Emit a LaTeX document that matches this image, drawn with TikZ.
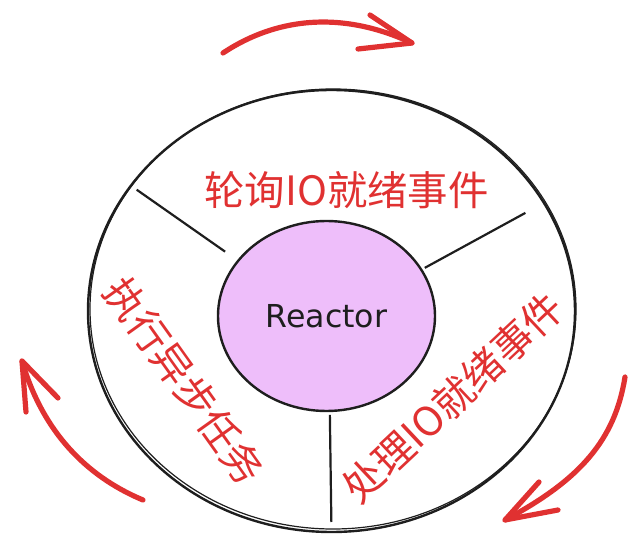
\documentclass[tikz,border=0pt]{standalone}
\usepackage{fontspec}
\usepackage{xcolor}
\usepackage{tikz}
\usetikzlibrary{shapes.geometric,calc}

\newfontfamily\cjk{Noto Sans CJK SC}
\newfontfamily\handfont{DejaVu Sans}

\definecolor{sketchred}{HTML}{E03131}
\definecolor{sketchink}{HTML}{1E1E1E}
\definecolor{lilac}{HTML}{EEBEFA}

\begin{document}
\begin{tikzpicture}[x=0.5pt,y=-0.5pt,
    ring/.style={ellipse, draw=sketchink, line width=1.2pt, inner sep=0pt, outer sep=0pt,
        minimum width=243.5pt, minimum height=221pt},
    core/.style={ellipse, draw=sketchink, fill=lilac, line width=1.2pt, inner sep=0pt, outer sep=0pt,
        minimum width=108.5pt, minimum height=95pt, font=\handfont\fontsize{15.8}{18}\selectfont, text=sketchink},
    spoke/.style={draw=sketchink, line width=1.1pt},
    phase/.style={text=sketchred, font=\cjk\fontsize{20.2}{24}\selectfont, inner sep=0pt},
    flow/.style={draw=sketchred, line width=2.6pt, line cap=round, line join=round}]
        \useasboundingbox (0,0) rectangle (644,551);

        % Rings
        \node[ring] (ring) at (331.5,311) {};
        \draw[sketchink, line width=0.6pt] (333,309) ellipse [x radius=243, y radius=220];
        \node[core] (reactor) at (326.5,316) {Reactor};

        % Spokes
        \draw[spoke, shorten <=8pt, shorten >=3.5pt] (reactor.148) -- (ring.148);
        \draw[spoke, shorten <=2pt, shorten >=10.5pt] (reactor.26) -- (ring.27);
        \draw[spoke, shorten <=2pt, shorten >=5pt] (reactor.-88) -- (ring.-90);

        % Phase labels
        \node[phase] (poll) at (346.5,190) {轮询IO就绪事件};
        \node[phase, rotate=-54.5] (run) at (184.5,381) {执行异步任务};
        \node[phase, rotate=43.2] (handle) at (453,397.5) {处理IO就绪事件};

        % Cycle arrows
        \coordinate (topfrom) at (223,53);
        \coordinate (topto) at (412,43);
        \draw[flow] (topfrom) .. controls (265,25) and (330,5) .. (topto);
        \draw[flow] (370,15) -- (topto) -- (358,49);

        \coordinate (rightfrom) at (625,377);
        \coordinate (rightto) at (505,520);
        \draw[flow] (rightfrom) .. controls (615,440) and (580,480) .. (rightto);
        \draw[flow] (539,482) -- (rightto) -- (558,510);

        \coordinate (leftfrom) at (143,500);
        \coordinate (leftto) at (22,361);
        \draw[flow] (leftfrom) .. controls (95,480) and (45,440) .. (leftto);
        \draw[flow] (26,412) -- (leftto) -- (58,398);
    \end{tikzpicture}
\end{document}
